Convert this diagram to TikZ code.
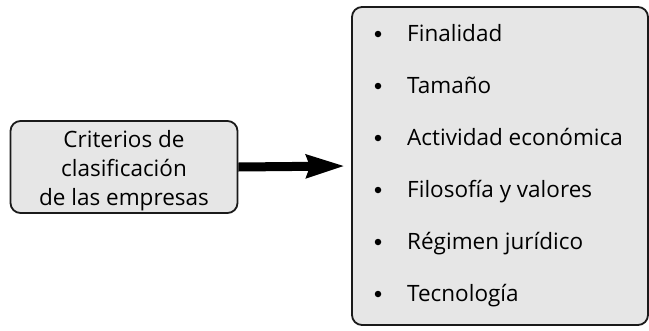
\documentclass[tikz,border=0pt]{standalone}
\usepackage{fontspec}
\setmainfont{Open Sans}
\usetikzlibrary{arrows.meta, positioning}

\begin{document}
\begin{tikzpicture}[
    x=1pt, y=-1pt,
    every node/.style={font=\fontsize{22.5}{29}\selectfont},
]

% ---------------------------------------------------------------- colours
\definecolor{boxfill}{HTML}{E6E6E6}
\definecolor{boxline}{HTML}{1A1A1A}

\tikzset{
    panel/.style={rectangle, draw=boxline, fill=boxfill, line width=1.8pt,
                  rounded corners=10pt},
    item/.style={anchor=base west, inner sep=0pt},
    bala/.style={circle, fill=black, inner sep=0pt, minimum size=6.5pt},
    bigarrow/.style={-{Stealth[length=38pt, width=22pt, inset=3pt]},
                     line width=9pt, black},
}

\useasboundingbox (0,0) rectangle (649,330);

% ----------------------------------------------------------------------
% left: the box with the criteria title
% ----------------------------------------------------------------------
\node[panel, minimum width=227pt, minimum height=92pt] (criterios) at (124, 167) {};
\node[align=center, inner sep=0pt] (titulo) at (124, 171)
    {Criterios de\\clasificación\\de las empresas};

% ----------------------------------------------------------------------
% right: the list of criteria
% ----------------------------------------------------------------------
\node[panel, minimum width=296pt, minimum height=318pt] (lista) at (500, 166) {};

\foreach \t/\i in {Finalidad/0, Tamaño/1, Actividad económica/2,
                   Filosofía y valores/3, Régimen jurídico/4, Tecnología/5}
{
    \node[bala] (bala\i) at (378, 34+\i*52) {};
    \node[item] (item\i) at (407, 41+\i*52) {\t};
}

% ----------------------------------------------------------------------
% the arrow from the title to the list
% ----------------------------------------------------------------------
\draw[bigarrow] (criterios.east) -- ([xshift=-6pt]lista.west);

\end{tikzpicture}
\end{document}
